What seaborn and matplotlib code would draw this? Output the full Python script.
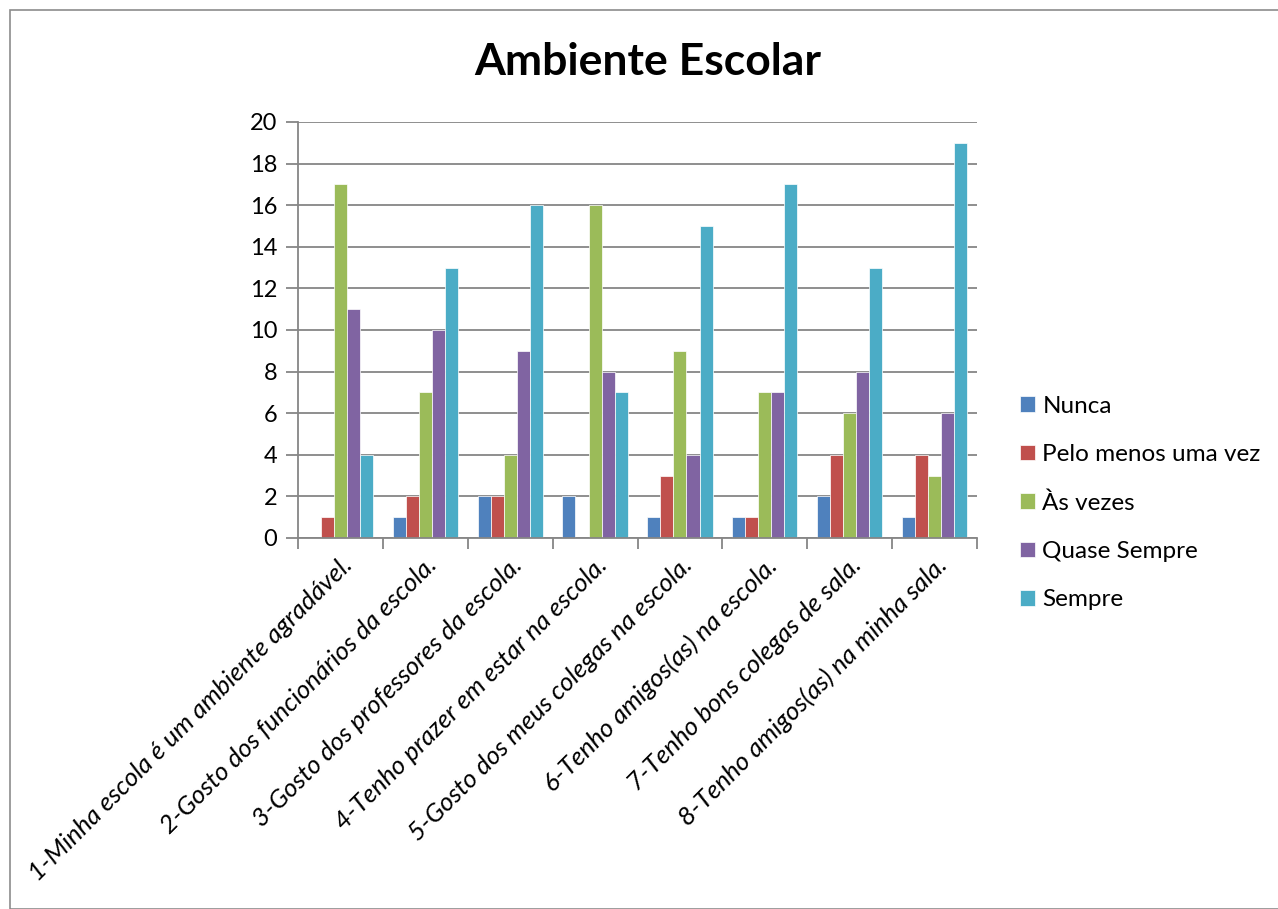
import matplotlib
matplotlib.use("Agg")
import matplotlib.pyplot as plt
import seaborn as sns
import pandas as pd
from matplotlib.patches import Rectangle

categories = [
    "1-Minha escola é um ambiente agradável.",
    "2-Gosto dos funcionários da escola.",
    "3-Gosto dos professores da escola.",
    "4-Tenho prazer em estar na escola.",
    "5-Gosto dos meus colegas na escola.",
    "6-Tenho amigos(as) na escola.",
    "7-Tenho bons colegas de sala.",
    "8-Tenho amigos(as) na minha sala.",
]
series_names = ["Nunca", "Pelo menos uma vez", "Às vezes", "Quase Sempre", "Sempre"]
nunca = [0, 1, 2, 2, 1, 1, 2, 1]
pelo_menos = [1, 2, 2, 0, 3, 1, 4, 4]
as_vezes = [17, 7, 4, 16, 9, 7, 6, 3]
quase_sempre = [11, 10, 9, 8, 4, 7, 8, 6]
sempre = [4, 13, 16, 7, 15, 17, 13, 19]
y_ticks = [0, 2, 4, 6, 8, 10, 12, 14, 16, 18, 20]
colors = ["#4F81BD", "#C0504D", "#9BBB59", "#8064A2", "#4BACC6"]

sns.set_theme(style="white")
plt.rcParams["font.family"] = ["Lato", "DejaVu Sans"]
plt.rcParams["text.color"] = "black"
plt.rcParams["xtick.color"] = "black"
plt.rcParams["ytick.color"] = "black"

rows = []
for name, vals in zip(series_names, [nunca, pelo_menos, as_vezes, quase_sempre, sempre]):
    for c, v in zip(categories, vals):
        rows.append({"Categoria": c, "Série": name, "Valor": v})
df = pd.DataFrame(rows)

W, H = 1278, 909
fig = plt.figure(figsize=(W / 100, H / 100), dpi=100)
fig.patches.append(Rectangle((10 / W, 0.0), 1.2, 1 - 10 / H, transform=fig.transFigure,
                             fill=False, edgecolor="#8c8c8c", linewidth=1.2))
ax = fig.add_axes([298 / W, 1 - 538 / H, (977 - 298) / W, (538 - 122) / H])

sns.barplot(data=df, x="Categoria", y="Valor", hue="Série",
            order=categories, hue_order=series_names, palette=colors,
            width=0.77, ax=ax, edgecolor="white", linewidth=0.5, saturation=1)

ax.set_ylim(0, 20)
ax.set_yticks(y_ticks)
ax.set_yticklabels([str(t) for t in y_ticks], fontsize=17)
ax.yaxis.grid(True, color="#868686", linewidth=1.3)
ax.set_axisbelow(True)
ax.set_xlabel("")
ax.set_ylabel("")
ax.set_xlim(-0.5, len(categories) - 0.5)

for s in ["top", "right"]:
    ax.spines[s].set_visible(False)
for s in ["left", "bottom"]:
    ax.spines[s].set_color("#868686")
    ax.spines[s].set_linewidth(1.3)

ax.tick_params(axis="y", which="major", left=True, length=9, color="#868686", width=1.3, pad=6)
ax.set_xticks(range(len(categories)))
ax.set_xticklabels(categories, rotation=45, ha="right", rotation_mode="anchor",
                   fontsize=18.5, fontstyle="italic")
ax.tick_params(axis="x", which="major", bottom=False, pad=5)
ax.set_xticks([i - 0.5 for i in range(len(categories) + 1)], minor=True)
ax.tick_params(axis="x", which="minor", bottom=True, length=8, color="#868686", width=1.3)
for lbl in ax.get_xticklabels():
    lbl.set_x(lbl.get_position()[0])

fig.text(648 / W, 1 - 62 / H, "Ambiente Escolar", ha="center", va="center",
         fontsize=32, fontweight="bold", color="black")

handles, labels = ax.get_legend_handles_labels()
ax.legend(handles, labels, loc="center left", bbox_to_anchor=(1003 / W, 1 - 503 / H),
          bbox_transform=fig.transFigure, frameon=False, fontsize=17.5,
          handlelength=0.62, handleheight=0.62, handletextpad=0.3, labelspacing=1.12,
          borderpad=0.2)

fig.savefig("out.png", dpi=100)
